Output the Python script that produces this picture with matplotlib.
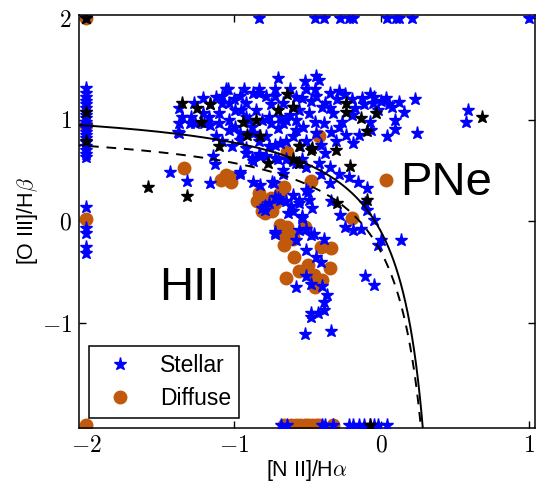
import numpy as np
import matplotlib
matplotlib.use("Agg")
from matplotlib import pyplot as plt

# ----- data: log([N II]/Ha), log([O III]/Hb) -----
# stellar points pinned on the left edge (x = -2)
stellar_edge_y = [1.31, 1.26, 1.22, 1.18, 1.15, 1.12, 1.08, 1.05, 1.02, 0.98,
                  0.95, 0.92, 0.88, 0.85, 0.82, 0.78, 0.74, 0.70, 0.66, 0.63,
                  0.14, -0.06, -0.11, -0.25, -0.31]
# stellar points pinned on the top edge (y = 2) and bottom edge (y = -2)
stellar_top_x = [-2.0, -0.83, -0.45, -0.39, -0.28, -0.22, -0.19, 0.04, 0.10, 0.12, 0.21, 1.00]
stellar_bottom_x = [-0.68, -0.64, -0.40, -0.38, -0.33, -0.22, -0.19, -0.15, -0.12,
                    -0.08, -0.05, -0.02, 0.04]

# upper cloud of stellar points
stellar_cloud = [
    (-1.37, 1.12), (-1.35, 1.03), (-1.37, 0.97), (-1.38, 0.88), (-1.27, 1.16), (-1.21, 1.21),
    (-1.16, 1.15), (-1.26, 0.97), (-1.20, 0.97), (-1.16, 0.95), (-1.05, 1.30), (-1.08, 1.23),
    (-1.10, 1.07), (-1.03, 1.00), (-1.12, 0.84), (-1.08, 0.79), (-1.01, 0.74), (-0.96, 0.87),
    (-0.92, 1.16), (-0.87, 1.26), (-0.83, 1.30), (-0.78, 1.23), (-0.70, 1.41), (-0.52, 1.38),
    (-0.72, 1.30), (-0.67, 1.16), (-0.60, 1.13), (-0.69, 1.03), (-0.81, 1.00), (-0.87, 0.87),
    (-0.78, 0.84), (-0.72, 0.75), (-0.65, 0.79), (-0.58, 0.90), (-0.55, 0.74), (-0.92, 1.03),
    (-0.85, 1.10), (-0.65, 1.00), (-0.56, 1.10), (-0.51, 1.30), (-1.03, 1.16), (-0.96, 1.23),
    (-1.10, 0.97), (-1.21, 1.07), (-1.29, 1.03), (-0.44, 1.43), (-1.04, 1.30), (-0.83, 1.26),
    (-0.72, 1.23), (-0.54, 1.21), (-0.44, 1.23), (-0.40, 1.13), (-0.49, 1.07), (-0.58, 1.00),
    (-0.67, 0.97), (-0.76, 1.03), (-0.99, 1.10), (-1.08, 1.16), (-1.17, 1.03), (-1.30, 0.97),
    (-1.37, 0.87), (-1.03, 0.90), (-0.96, 0.80), (-0.83, 0.84), (-0.69, 0.77), (-0.60, 0.84),
    (-0.51, 0.79), (-0.41, 0.75), (-0.99, 0.93), (-0.35, 1.26), (-0.29, 1.28), (-0.20, 1.20),
    (-0.13, 1.21), (-0.08, 1.25), (-0.06, 1.16), (0.03, 1.21), (0.05, 1.15), (0.07, 1.13),
    (0.23, 1.20), (0.59, 1.10), (0.57, 0.98), (-0.42, 1.39), (-0.38, 1.16), (-0.33, 1.07),
    (-0.39, 0.97), (-0.29, 0.93), (-0.24, 0.85), (-0.34, 0.88), (-0.31, 0.79), (-0.19, 0.77),
    (-0.15, 0.85), (-0.08, 0.98), (-0.07, 0.90), (-0.02, 1.10), (0.09, 1.00), (0.09, 0.91),
    (0.04, 0.84), (0.24, 0.87), (-1.00, 1.20), (-0.95, 1.10), (-0.90, 1.00), (-0.75, 1.15),
    (-0.62, 1.05), (-0.48, 1.18), (-0.45, 0.98), (-0.35, 1.12), (-0.30, 1.20), (-0.25, 1.25),
    (-0.18, 1.12), (-0.12, 1.15), (-0.05, 1.22), (0.00, 1.18), (0.12, 1.17), (0.15, 1.08),
    (-0.20, 1.05), (-0.27, 0.98), (-0.53, 0.93), (-0.70, 0.92), (-0.88, 0.93), (-1.12, 1.22),
    (-0.62, 1.30), (-0.58, 1.22), (-0.45, 1.30), (-0.93, 1.30), (-0.75, 0.97), (-0.44, 0.87),
]

# stellar points below the cloud, down the star-forming branch
stellar_branch = [
    (-1.14, 0.64), (-1.13, 0.56), (-0.96, 0.49), (-1.43, 0.49), (-0.87, 0.59), (-0.78, 0.64),
    (-0.70, 0.61), (-0.67, 0.51), (-0.60, 0.59), (-0.56, 0.57), (-0.51, 0.54), (-0.92, 0.72),
    (-0.83, 0.79), (-0.92, 0.67), (-0.83, 0.66), (-0.76, 0.74), (-0.38, 0.67), (-1.32, 0.40),
    (-1.16, 0.38), (-0.87, 0.39), (-0.82, 0.36), (-0.73, 0.38), (-0.67, 0.47), (-0.79, 0.15),
    (-0.70, 0.23), (-0.65, 0.20), (-0.60, 0.26), (-0.56, 0.18), (-0.51, 0.31), (-0.72, -0.12),
    (-0.60, 0.10), (-0.54, 0.05), (-0.51, -0.07), (-0.58, -0.18), (-0.88, 0.62), (-0.82, 0.64),
    (-0.58, 0.57), (-0.72, 0.62), (-0.65, 0.61), (-0.54, 0.61), (-0.42, 0.57), (-0.35, 0.54),
    (-0.29, 0.47), (-0.22, 0.44), (-0.16, 0.39), (-0.10, 0.33), (-0.41, 0.47), (-0.35, 0.38),
    (-0.50, 0.29), (-0.49, 0.21), (-0.56, 0.21), (-0.61, 0.15), (-0.69, 0.21), (-0.76, 0.18),
    (-0.79, 0.11), (-0.63, 0.08), (-0.54, 0.03), (-0.47, 0.13), (-0.34, 0.20), (-0.28, 0.06),
    (-0.25, -0.05), (-0.19, -0.08), (-0.14, -0.07), (-0.11, 0.18), (-0.10, 0.11), (-0.05, 0.01),
    (0.00, -0.18), (-0.02, -0.23), (0.13, -0.18), (-0.72, -0.10), (-0.56, -0.08), (-0.48, -0.13),
    (-0.46, -0.12), (-0.39, -0.17), (-0.51, -0.28), (-0.44, -0.35), (-0.41, -0.40), (-0.58, -0.64),
    (-0.48, -0.61), (-0.40, -0.63), (-0.11, -0.54), (-0.05, -0.62), (-0.96, 0.47), (-0.74, 0.39),
    (-0.81, 0.13), (-0.72, 0.24), (-0.51, -0.54), (-0.37, -0.72), (-0.39, -0.79), (-0.39, -0.87),
    (-0.43, -0.90), (-0.48, -0.90), (-0.48, -0.94), (-0.52, -1.11), (-0.34, -1.08),
]

# black stars (not in the legend)
black_stars = [
    (-2.0, 2.0), (-2.0, 1.08), (-2.0, 0.79), (-1.35, 1.16), (-1.25, 1.12), (-1.16, 1.15),
    (-1.22, 0.98), (-0.94, 0.98), (-0.91, 0.85), (-0.85, 1.00), (-0.82, 0.84), (-1.10, 0.74),
    (-0.77, 0.57), (-0.70, 1.10), (-0.64, 1.25), (-0.60, 1.13), (-0.56, 0.74), (-0.47, 0.72),
    (-0.24, 1.16), (-0.24, 1.08), (-0.14, 1.02), (-0.04, 1.07), (-0.10, 0.89), (-0.31, 0.70),
    (0.68, 1.03), (-1.58, 0.34), (-1.32, 0.25), (-0.60, 0.61), (-0.56, 0.57), (-0.21, 0.55),
    (-0.10, 0.21), (-0.30, 0.18), (-0.48, 0.70), (-0.08, -2.0),
]

# diffuse points
diffuse_points = [
    (-2.0, 2.0), (-2.0, -2.0), (-2.0, 0.02), (-2.0, 0.95), (-0.64, 0.68), (-1.34, 0.53),
    (-1.05, 0.46), (-0.42, 0.84), (-1.09, 0.41), (-1.02, 0.39), (-1.02, 0.44), (-0.83, 0.28),
    (-0.82, 0.20), (-0.79, 0.08), (-0.75, 0.13), (-0.72, 0.18), (-0.69, 0.28), (-0.66, 0.34),
    (-0.69, -0.03), (-0.65, -0.08), (-0.66, -0.23), (-0.60, -0.15), (-0.59, -0.35), (-0.56, -0.49),
    (-0.65, -0.56), (-0.48, 0.40), (0.03, 0.41), (-0.20, 0.03), (-0.78, 0.20), (-0.74, 0.10),
    (-0.64, -0.05), (-0.63, -0.12), (-0.52, -0.05), (-0.60, -0.17), (-0.41, -0.25), (-0.34, -0.26),
    (-0.50, -0.43), (-0.35, -0.46), (-0.46, -0.53), (-0.40, -0.58), (-0.45, -0.64), (-0.84, 0.20),
    (-0.81, 0.10), (-0.75, 0.23), (-0.67, -0.12),
]
diffuse_bottom_x = [-0.66, -0.61, -0.58, -0.55, -0.52, -0.50, -0.47, -0.44, -0.42, -0.33]

x_ticks = [-2, -1, 0, 1]
x_tick_labels = [r"$-2$", r"$-1$", r"$0$", r"$1$"]
y_ticks = [-1, 0, 1, 2]
y_tick_labels = [r"$-1$", r"$0$", r"$1$", r"$2$"]

BLUE = "#0000ff"
ORANGE = "#c0590c"

plt.rcParams["font.family"] = ["Liberation Sans", "DejaVu Sans"]
plt.rcParams["mathtext.fontset"] = "cm"
plt.rcParams["axes.linewidth"] = 1.1


def main():
    fig = plt.figure(figsize=(5.37, 4.83), dpi=100)
    ax = fig.add_axes([0.147, 0.114, 0.849, 0.855])

    # stellar
    sx = [-2.0] * len(stellar_edge_y) + stellar_top_x + stellar_bottom_x
    sy = stellar_edge_y + [2.0] * len(stellar_top_x) + [-2.0] * len(stellar_bottom_x)
    for px, py in stellar_cloud + stellar_branch:
        sx.append(px)
        sy.append(py)

    dx = [p[0] for p in diffuse_points] + diffuse_bottom_x
    dy = [p[1] for p in diffuse_points] + [-2.0] * len(diffuse_bottom_x)

    bx = [p[0] for p in black_stars]
    by = [p[1] for p in black_stars]

    h_diff, = ax.plot(dx, dy, ls="none", marker="o", ms=9, color=ORANGE,
                      mec=ORANGE, zorder=2, label="Diffuse")
    h_star, = ax.plot(sx, sy, ls="none", marker="*", ms=9.5, color=BLUE,
                      mec=BLUE, zorder=3, label="Stellar")
    ax.plot(bx, by, ls="none", marker="*", ms=9.5, color="k", mec="k", zorder=4)

    # demarcation curves
    xc = np.linspace(-2.1, 0.469, 800)
    ax.plot(xc, 0.61 / (xc - 0.47) + 1.19, color="k", lw=1.4, zorder=5)
    ax.plot(xc, 0.61 / (xc - 0.47) + 0.99, color="k", lw=1.4,
            ls=(0, (5, 4)), zorder=5)

    ax.text(-1.30, -0.77, "HII", fontsize=34, ha="center", va="baseline")
    ax.text(0.437, 0.26, "PNe", fontsize=34, ha="center", va="baseline")

    ax.set_xlim(-2.05, 1.04)
    ax.set_ylim(-2.03, 2.03)
    ax.set_xticks(x_ticks)
    ax.set_xticklabels(x_tick_labels)
    ax.set_yticks(y_ticks)
    ax.set_yticklabels(y_tick_labels)
    ax.tick_params(direction="in", top=True, right=True, length=5, width=1,
                   labelsize=17, pad=5)

    ax.set_xlabel(r"[N II]/H$\alpha$", fontsize=15.5, labelpad=1)
    ax.set_ylabel(r"[O III]/H$\beta$", fontsize=15.5, labelpad=1)

    leg = ax.legend(handles=[h_star, h_diff], loc="lower left", numpoints=1,
                    fontsize=16.5, fancybox=False, framealpha=1, edgecolor="k",
                    borderaxespad=0.45, handletextpad=0.75, labelspacing=0.4,
                    borderpad=0.35)
    leg.get_frame().set_linewidth(1.1)

    fig.savefig("out.png", dpi=100)
    plt.close(fig)


if __name__ == "__main__":
    main()
